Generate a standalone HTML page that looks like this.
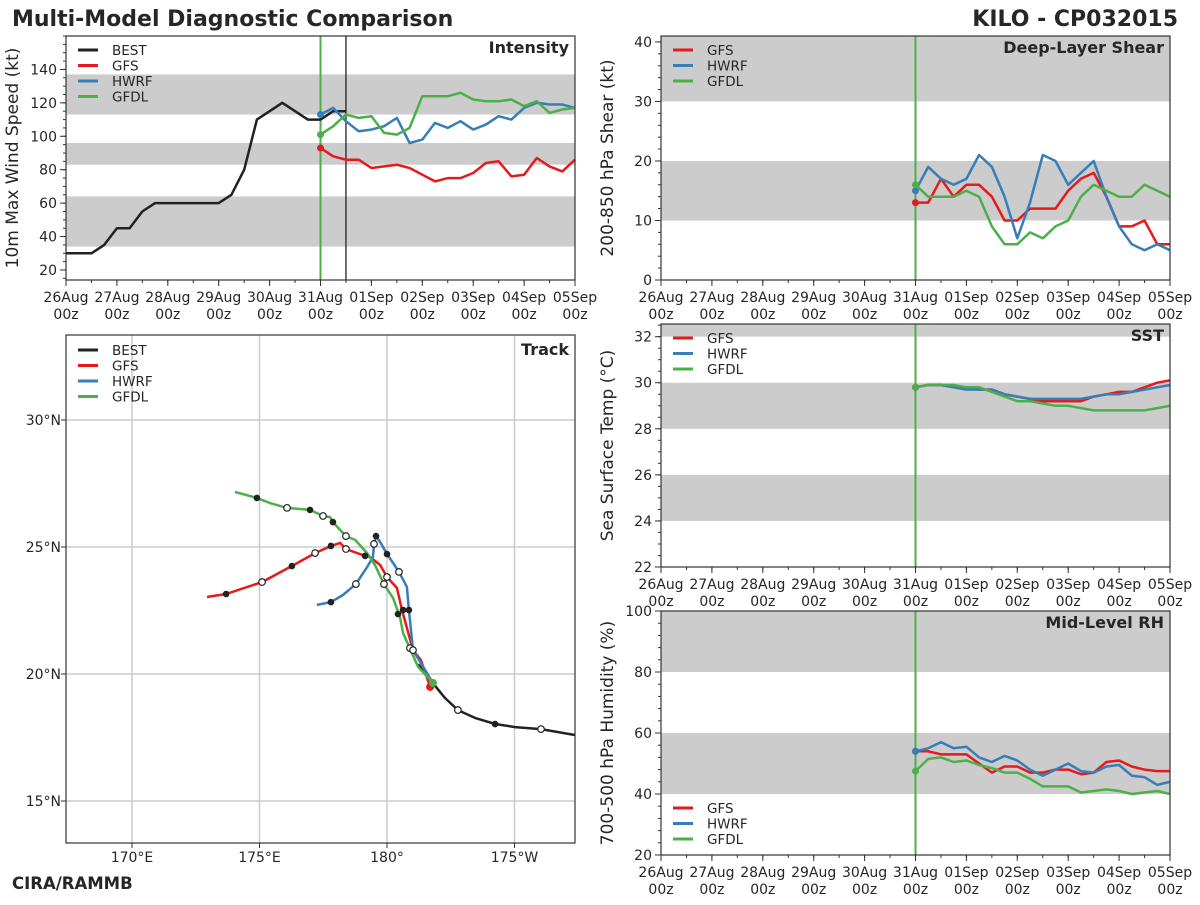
<!DOCTYPE html>
<html><head><meta charset="utf-8"><style>
html,body{margin:0;padding:0;background:#fff;}
svg text{font-family:"DejaVu Sans","Liberation Sans",sans-serif;fill:#262626;}
</style></head><body>
<svg id="chart" xmlns="http://www.w3.org/2000/svg" width="1200" height="900" viewBox="0 0 1200 900">
<text x="12" y="26" font-size="22" font-weight="bold">Multi-Model Diagnostic Comparison</text>
<text x="1178" y="26" font-size="22" font-weight="bold" text-anchor="end">KILO - CP032015</text>
<text x="12" y="889" font-size="16.5" font-weight="bold">CIRA/RAMMB</text>
</svg>
<script>
// ---------- data ----------
const dayLabels = ["26Aug","27Aug","28Aug","29Aug","30Aug","31Aug","01Sep","02Sep","03Sep","04Sep","05Sep"];
const bestIntensity = [30,30,30,35,45,45,55,60,60,60,60,60,60,65,80,110,115,120,115,110,110,115,115];
const gfsIntensity  = [93,88,86,86,81,82,83,81,77,73,75,75,78,84,85,76,77,87,82,79,86];
const hwrfIntensity = [113,117,109,103,104,106,111,96,98,108,105,109,104,107,112,110,117,120,119,119,117];
const gfdlIntensity = [101,106,113,111,112,102,101,105,124,124,124,126,122,121,121,122,118,121,114,116,117];
const gfsShear  = [13,13,17,14,16,16,14,10,10,12,12,12,15,17,18,14,9,9,10,6,6];
const hwrfShear = [15,19,17,16,17,21,19,14,7,13,21,20,16,18,20,14,9,6,5,6,5];
const gfdlShear = [16,14,14,14,15,14,9,6,6,8,7,9,10,14,16,15,14,14,16,15,14];
const gfsSST  = [29.8,29.9,29.9,29.8,29.8,29.7,29.7,29.5,29.4,29.3,29.2,29.2,29.2,29.2,29.4,29.5,29.6,29.6,29.8,30.0,30.1];
const hwrfSST = [29.8,29.9,29.9,29.8,29.7,29.7,29.7,29.5,29.4,29.3,29.3,29.3,29.3,29.3,29.4,29.5,29.5,29.6,29.7,29.8,29.9];
const gfdlSST = [29.8,29.9,29.9,29.9,29.8,29.8,29.6,29.4,29.2,29.2,29.1,29.0,29.0,28.9,28.8,28.8,28.8,28.8,28.8,28.9,29.0];
const gfsRH  = [54,54,53,53,53,50,47,49,49,47,47,48,48,46.5,47,50.5,51,49,48,47.5,47.5];
const hwrfRH = [54,55,57,55,55.5,52,50.5,52.5,51,48,46,48,50,47.5,47,49,49.5,46,45.5,43,44];
const gfdlRH = [47.5,51.5,52,50.5,51,49.5,48.5,47,47,45,42.5,42.5,42.5,40.5,41,41.5,41,40,40.5,41,40];
// track (lon in 0-360 east, lat north)
const bestTrackLon = [187.37,186.04,185.02,184.24,183.45,182.78,182.27,181.76,181.22];
const bestTrackLat = [17.6,17.83,17.91,18.03,18.27,18.58,19.06,19.69,20.39];
const gfsTrackLon = [181.69,181.33,181.02,180.59,180.39,180.0,179.73,179.33,179.14,178.39,178.16,177.8,177.18,176.27,175.1,173.69,172.94];
const gfsTrackLat = [19.49,20.55,20.94,22.52,23.39,23.82,24.29,24.61,24.65,24.92,25.16,25.04,24.76,24.25,23.62,23.15,23.03];
const hwrfTrackLon = [181.8,181.02,180.86,180.78,180.47,180.24,180.0,179.73,179.57,179.49,179.45,179.22,178.78,178.27,177.8,177.25];
const hwrfTrackLat = [19.65,20.94,22.52,23.43,24.02,24.37,24.72,25.2,25.43,25.12,24.61,24.21,23.54,23.11,22.83,22.72];
const gfdlTrackLon = [181.8,181.22,180.63,180.51,180.24,179.88,179.53,179.22,178.75,178.39,177.88,177.76,177.49,176.98,176.08,175.41,174.9,174.04];
const gfdlTrackLat = [19.65,20.28,21.61,22.24,22.99,23.54,24.29,24.76,25.28,25.43,25.98,26.18,26.22,26.46,26.54,26.73,26.93,27.17];
const filledMarkLon = [173.69,176.27,177.8,179.14,174.9,176.98,177.88,177.8,180.0,179.57,180.43,180.63,180.86,184.24];
const filledMarkLat = [23.15,24.25,25.04,24.65,26.93,26.46,25.98,22.83,24.72,25.43,22.36,22.52,22.52,18.03];
const openMarkLon = [175.1,177.18,178.39,176.08,177.49,178.39,178.78,179.49,180.47,179.88,180.0,180.9,181.02,182.78,186.04];
const openMarkLat = [23.62,24.76,24.92,26.54,26.22,25.43,23.54,25.12,24.02,23.54,23.82,21.02,20.94,18.58,17.83];

// ---------- helpers ----------
const NS="http://www.w3.org/2000/svg";
const svg=document.getElementById('chart');
const C={BEST:'#222222',GFS:'#e41a1c',HWRF:'#377eb8',GFDL:'#4daf4a'};
function mk(tag,attrs,parent){const e=document.createElementNS(NS,tag);for(const k in attrs)e.setAttribute(k,attrs[k]);(parent||svg).appendChild(e);return e;}
function txt(x,y,s,attrs,parent){const e=mk('text',Object.assign({x:x,y:y},attrs||{}),parent);e.textContent=s;return e;}

function timePanel(o){
  const g=mk('g',{});
  
  
  const X=d=>o.x0+(o.x1-o.x0)*d/10;
  const Y=v=>o.y1-(o.y1-o.y0)*(v-o.vmin)/(o.vmax-o.vmin);
  mk('rect',{x:o.x0,y:o.y0,width:o.x1-o.x0,height:o.y1-o.y0,fill:'#fff'},g);
  o.bands.forEach(b=>{
    const top=Math.max(Y(b[1]),o.y0),bot=Math.min(Y(b[0]),o.y1);
    const r=mk('rect',{x:o.x0,y:top,width:o.x1-o.x0,height:bot-top,fill:'#cccccc'},g);
    
    
  });
  for(let v=Math.ceil(o.vmin/o.minor)*o.minor;v<=o.vmax+1e-9;v+=o.minor){
    mk('line',{x1:o.x0-3,x2:o.x0,y1:Y(v),y2:Y(v),stroke:'#333','stroke-width':1},g);
  }
  o.yticks.forEach(v=>{
    mk('line',{x1:o.x0-6,x2:o.x0,y1:Y(v),y2:Y(v),stroke:'#333','stroke-width':1},g);
    const t=txt(o.x0-9,Y(v)+5,String(v),{'font-size':14,'text-anchor':'end'},g);
    
    
  });
  for(let d=0;d<=10;d+=0.5){mk('line',{x1:X(d),x2:X(d),y1:o.y1,y2:o.y1+3,stroke:'#333'},g);}
  dayLabels.forEach((s,i)=>{
    mk('line',{x1:X(i),x2:X(i),y1:o.y1,y2:o.y1+6,stroke:'#333'},g);
    const t=txt(X(i),o.y1+22,s,{'font-size':14,'text-anchor':'middle'},g);
    
    
    txt(X(i),o.y1+39,'00z',{'font-size':14,'text-anchor':'middle'},g);
  });
  const yl=txt(0,0,o.ylabel,{'font-size':17,'text-anchor':'middle',transform:`translate(${o.x0-48},${(o.y0+o.y1)/2}) rotate(-90)`},g);
  
  
  mk('line',{x1:X(5),x2:X(5),y1:o.y0,y2:o.y1,stroke:C.GFDL,'stroke-width':2},g);
  if(o.bestLine) mk('line',{x1:X(5.5),x2:X(5.5),y1:o.y0,y2:o.y1,stroke:'#222','stroke-width':1.3},g);
  o.series.forEach(s=>{
    const pts=s.vals.map((v,i)=>X(s.start+i*0.25).toFixed(1)+','+Y(v).toFixed(1)).join(' ');
    const p=mk('polyline',{points:pts,fill:'none',stroke:C[s.key],'stroke-width':2.5,'stroke-linejoin':'round'},g);
    
    
    if(s.key!=='BEST'){
      const c=mk('circle',{cx:X(s.start),cy:Y(s.vals[0]),r:3.5,fill:C[s.key]},g);
      
      
    }
  });
  mk('rect',{x:o.x0,y:o.y0,width:o.x1-o.x0,height:o.y1-o.y0,fill:'none',stroke:'#333','stroke-width':1.2},g);
  const tt=txt(o.x1-6,o.y0+17,o.title,{'font-size':16,'font-weight':'bold','text-anchor':'end'},g);
  
  
  legend(g,o.legX,o.legY,o.series.map(s=>s.key));
}
function legend(g,x,y,keys){
  const lg=mk('g',{},g);
  
  
  keys.forEach((k,i)=>{
    const e=mk('g',{},lg);
    
    
    mk('line',{x1:x,x2:x+20,y1:y+i*15.5,y2:y+i*15.5,stroke:C[k],'stroke-width':3},e);
    txt(x+34,y+i*15.5+5,k,{'font-size':13.5},e);
  });
}

timePanel({name:'intensity',x0:66,x1:575,y0:36,y1:280,vmin:14,vmax:160,minor:5,yticks:[20,40,60,80,100,120,140],
  bands:[[34,64],[83,96],[113,137]],ylabel:'10m Max Wind Speed (kt)',title:'Intensity',bestLine:true,legX:78,legY:50,
  series:[{key:'BEST',start:0,vals:bestIntensity},{key:'GFS',start:5,vals:gfsIntensity},{key:'HWRF',start:5,vals:hwrfIntensity},{key:'GFDL',start:5,vals:gfdlIntensity}]});
timePanel({name:'shear',x0:661,x1:1170,y0:36,y1:280,vmin:0,vmax:41,minor:2,yticks:[0,10,20,30,40],
  bands:[[10,20],[30,41]],ylabel:'200-850 hPa Shear (kt)',title:'Deep-Layer Shear',legX:673,legY:50,
  series:[{key:'GFS',start:5,vals:gfsShear},{key:'HWRF',start:5,vals:hwrfShear},{key:'GFDL',start:5,vals:gfdlShear}]});
timePanel({name:'sst',x0:661,x1:1170,y0:324,y1:567,vmin:22,vmax:32.55,minor:0.5,yticks:[22,24,26,28,30,32],
  bands:[[24,26],[28,30],[32,33]],ylabel:'Sea Surface Temp (°C)',title:'SST',legX:673,legY:338,
  series:[{key:'GFS',start:5,vals:gfsSST},{key:'HWRF',start:5,vals:hwrfSST},{key:'GFDL',start:5,vals:gfdlSST}]});
timePanel({name:'rh',x0:661,x1:1170,y0:611,y1:855,vmin:20,vmax:100,minor:4,yticks:[20,40,60,80,100],
  bands:[[40,60],[80,100]],ylabel:'700-500 hPa Humidity (%)',title:'Mid-Level RH',legX:673,legY:808,
  series:[{key:'GFS',start:5,vals:gfsRH},{key:'HWRF',start:5,vals:hwrfRH},{key:'GFDL',start:5,vals:gfdlRH}]});

// ---------- track panel ----------
(function(){
  const g=mk('g',{});
  
  
  const x0=66,x1=575,y0=335,y1=843;
  const LX=lon=>132+(lon-170)*25.5;
  const LY=lat=>420-(lat-30)*25.4;
  mk('rect',{x:x0,y:y0,width:x1-x0,height:y1-y0,fill:'#fff'},g);
  const lons=[170,175,180,185],lonLab=['170°E','175°E','180°','175°W'];
  lons.forEach((l,i)=>{
    mk('line',{x1:LX(l),x2:LX(l),y1:y0,y2:y1,stroke:'#cccccc','stroke-width':1.5},g);
    mk('line',{x1:LX(l),x2:LX(l),y1:y1,y2:y1+5,stroke:'#333'},g);
    const t=txt(LX(l),y1+19,lonLab[i],{'font-size':14,'text-anchor':'middle'},g);
    
    
  });
  [15,20,25,30].forEach(l=>{
    mk('line',{x1:x0,x2:x1,y1:LY(l),y2:LY(l),stroke:'#cccccc','stroke-width':1.5},g);
    mk('line',{x1:x0-5,x2:x0,y1:LY(l),y2:LY(l),stroke:'#333'},g);
    const t=txt(x0-5,LY(l)+5,l+'°N',{'font-size':14,'text-anchor':'end'},g);
    
    
  });
  const clip=mk('clipPath',{id:'trackclip'},g);
  mk('rect',{x:x0,y:y0,width:x1-x0,height:y1-y0},clip);
  const inner=mk('g',{'clip-path':'url(#trackclip)'},g);
  const tracks=[['BEST',bestTrackLon,bestTrackLat],['GFS',gfsTrackLon,gfsTrackLat],['HWRF',hwrfTrackLon,hwrfTrackLat],['GFDL',gfdlTrackLon,gfdlTrackLat]];
  tracks.forEach(t=>{
    const pts=t[1].map((lo,i)=>LX(lo).toFixed(1)+','+LY(t[2][i]).toFixed(1)).join(' ');
    const p=mk('polyline',{points:pts,fill:'none',stroke:C[t[0]],'stroke-width':2.5,'stroke-linejoin':'round'},inner);
    
    
  });
  filledMarkLon.forEach((lo,i)=>{
    const c=mk('circle',{cx:LX(lo),cy:LY(filledMarkLat[i]),r:3.3,fill:'#222'},inner);
    
    
  });
  openMarkLon.forEach((lo,i)=>{
    const c=mk('circle',{cx:LX(lo),cy:LY(openMarkLat[i]),r:3.3,fill:'#fff',stroke:'#222','stroke-width':1.2},inner);
    
    
  });
  mk('circle',{cx:LX(gfsTrackLon[0]),cy:LY(gfsTrackLat[0]),r:4,fill:C.GFS},inner);
  mk('circle',{cx:LX(gfdlTrackLon[0]),cy:LY(gfdlTrackLat[0]),r:4,fill:C.GFDL},inner);
  mk('rect',{x:x0,y:y0,width:x1-x0,height:y1-y0,fill:'none',stroke:'#333','stroke-width':1.2},g);
  const tt=txt(x1-6,y0+20,'Track',{'font-size':16,'font-weight':'bold','text-anchor':'end'},g);
  
  
  legend(g,78,350,['BEST','GFS','HWRF','GFDL']);
})();
</script>
</body></html>
